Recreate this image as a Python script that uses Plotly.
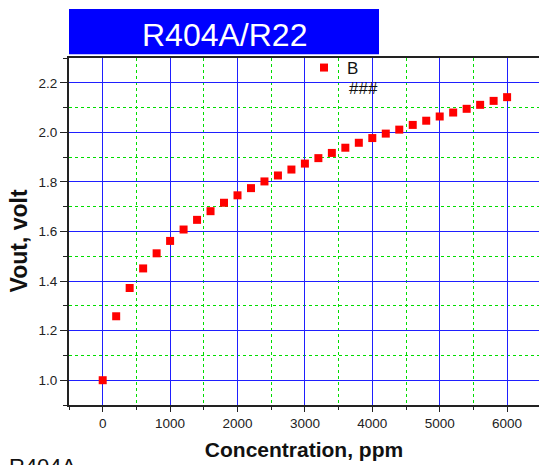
import plotly.graph_objects as go

# ---- data ----
concentration_ppm = [0, 200, 400, 600, 800, 1000, 1200, 1400, 1600, 1800,
                     2000, 2200, 2400, 2600, 2800, 3000, 3200, 3400, 3600, 3800,
                     4000, 4200, 4400, 4600, 4800, 5000, 5200, 5400, 5600, 5800, 6000]
vout_volt = [1.000, 1.258, 1.372, 1.451, 1.512, 1.562, 1.608, 1.647, 1.682, 1.716,
             1.746, 1.775, 1.802, 1.826, 1.850, 1.874, 1.896, 1.917, 1.938, 1.958,
             1.977, 1.995, 2.011, 2.030, 2.047, 2.064, 2.080, 2.095, 2.111, 2.127, 2.142]
series_name = "B"
x_tick_values = [0, 1000, 2000, 3000, 4000, 5000, 6000]
x_tick_labels = ["0", "1000", "2000", "3000", "4000", "5000", "6000"]
y_tick_values = [1.0, 1.2, 1.4, 1.6, 1.8, 2.0, 2.2]
y_tick_labels = ["1.0", "1.2", "1.4", "1.6", "1.8", "2.0", "2.2"]
title_text = "R404A/R22"
x_title = "Concentration, ppm"
y_title = "Vout, volt"
note_text = "###"
corner_text = "R404A"

# ---- layout geometry (pixels) ----
W, H = 539, 465
L, R, T, B = 69, 0, 58, 60
PW, PH = W - L - R, H - T - B


def px(p):
    return (p - L) / PW


def py(p):
    return (H - B - p) / PH


FONT = "Liberation Sans, Arial, sans-serif"
BLUE = "#1f1fff"
GREEN = "#00dd00"

fig = go.Figure()
fig.add_trace(go.Scatter(
    x=concentration_ppm, y=vout_volt, mode="markers", name=series_name,
    marker=dict(symbol="square", size=8, color="#ff0000", line=dict(width=0)),
))

fig.update_layout(
    width=W, height=H,
    margin=dict(l=L, r=R, t=T, b=B, pad=0),
    paper_bgcolor="white", plot_bgcolor="white",
    font=dict(family=FONT, size=13.5, color="#222"),
    showlegend=True,
    legend=dict(x=px(301), y=py(50), xanchor="left", yanchor="top",
                bgcolor="rgba(0,0,0,0)", borderwidth=0, itemwidth=36,
                font=dict(family=FONT, size=17, color="#111")),
    xaxis=dict(
        range=[-500, -500 + PW / 0.0674], tickmode="array",
        tickvals=x_tick_values, ticktext=x_tick_labels,
        showline=True, linecolor="#222", linewidth=2, mirror=True,
        ticks="outside", ticklen=5, tickwidth=1, tickcolor="#222",
        showgrid=True, gridcolor=BLUE, gridwidth=1, zeroline=False,
        minor=dict(dtick=500, tick0=-500, ticks="outside", ticklen=3,
                   tickcolor="#222", showgrid=True, gridcolor=GREEN,
                   griddash="dot", gridwidth=1),
        title=dict(text="<b>" + x_title + "</b>",
                   font=dict(family=FONT, size=21, color="#111"), standoff=12),
        tickfont=dict(family=FONT, size=13.5, color="#222"),
    ),
    yaxis=dict(
        range=[0.9, 2.3], tickmode="array",
        tickvals=y_tick_values, ticktext=y_tick_labels,
        showline=True, linecolor="#222", linewidth=2, mirror=False,
        ticks="outside", ticklen=7, tickwidth=1, tickcolor="#222",
        showgrid=True, gridcolor=BLUE, gridwidth=1, zeroline=False,
        minor=dict(dtick=0.1, tick0=0.9, ticks="outside", ticklen=4,
                   tickcolor="#222", showgrid=True, gridcolor=GREEN,
                   griddash="dot", gridwidth=1),
        tickfont=dict(family=FONT, size=13.5, color="#222"),
    ),
    shapes=[dict(type="rect", xref="paper", yref="paper",
                 x0=px(69), x1=px(379), y0=py(54.3), y1=py(9),
                 fillcolor="#0000ff", line=dict(width=0), layer="above")],
    annotations=[
        dict(text=title_text, xref="paper", yref="paper", x=px(224.4), y=py(35),
             xanchor="center", yanchor="middle", showarrow=False,
             font=dict(family=FONT, size=32, color="white")),
        dict(text="<b>" + y_title + "</b>", xref="paper", yref="paper",
             x=px(18.5), y=py(241), xanchor="center", yanchor="middle",
             textangle=-90, showarrow=False,
             font=dict(family=FONT, size=23, color="#111")),
        dict(text=note_text, xref="paper", yref="paper", x=px(347), y=py(88.5),
             xanchor="left", yanchor="middle", showarrow=False,
             font=dict(family=FONT, size=17, color="#111")),
        dict(text=corner_text, xref="paper", yref="paper", x=px(7), y=py(466),
             xanchor="left", yanchor="middle", showarrow=False,
             font=dict(family=FONT, size=22, color="#111")),
    ],
)

fig.write_html("out.html")
